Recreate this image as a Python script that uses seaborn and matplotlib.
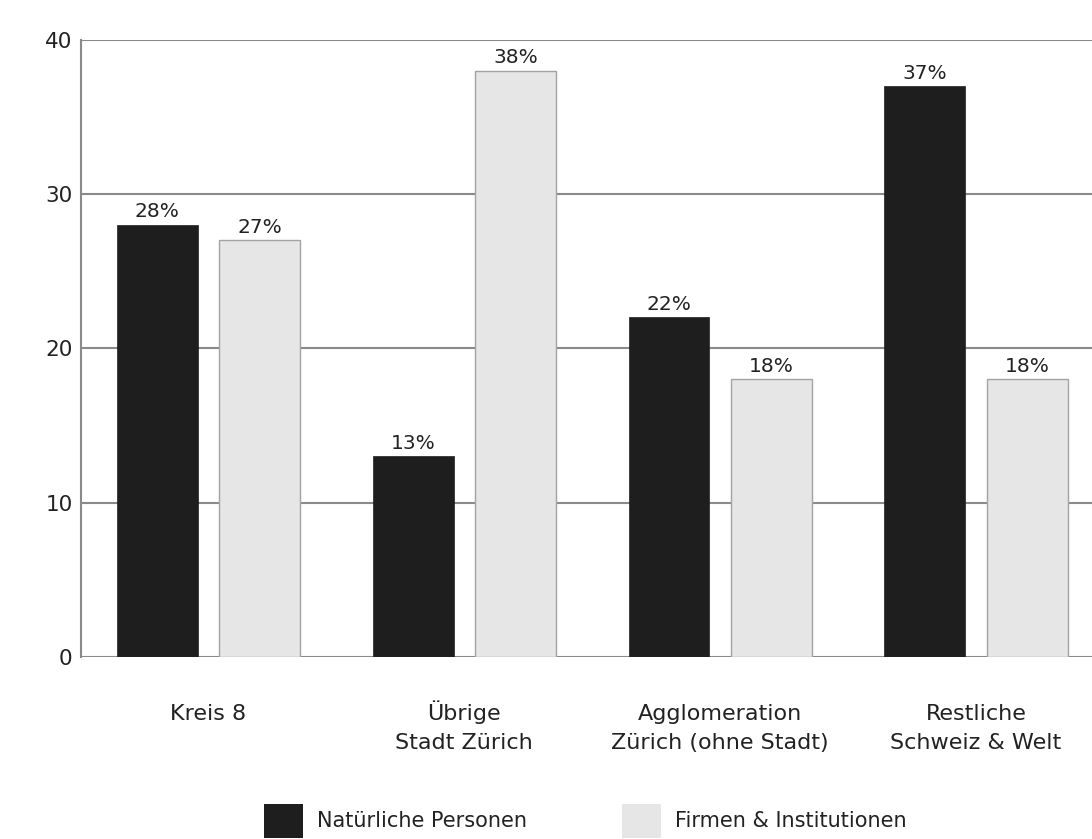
import matplotlib
matplotlib.use("Agg")
import matplotlib.pyplot as plt
import matplotlib.transforms as mtransforms
from matplotlib.patches import Patch
import pandas as pd
import seaborn as sns

# Herkunft der Eigentümer, Anteile in Prozent
regions = ["Kreis 8", "Übrige\nStadt Zürich", "Agglomeration\nZürich (ohne Stadt)", "Restliche\nSchweiz & Welt"]
series = ["Natürliche Personen", "Firmen & Institutionen"]
natuerliche_personen = [28, 13, 22, 37]
firmen_institutionen = [27, 38, 18, 18]
y_ticks = [0, 10, 20, 30, 40]

colors = {"Natürliche Personen": "#1e1e1e", "Firmen & Institutionen": "#e6e6e6"}
grid_color = "#8a8a8a"
text_color = "#222222"

df = pd.DataFrame({
    "Region": regions * 2,
    "Gruppe": [series[0]] * len(regions) + [series[1]] * len(regions),
    "Anteil": natuerliche_personen + firmen_institutionen,
})

sns.set_style("white")
plt.rcParams["font.family"] = ["DejaVu Sans"]

fig = plt.figure(figsize=(10.92, 8.39), dpi=100)
ax = fig.add_axes([81 / 1092, 182 / 839, 1 - 81 / 1092, 617.3 / 839])

sns.barplot(data=df, x="Region", y="Anteil", hue="Gruppe", order=regions,
            hue_order=series, palette=colors, width=0.8, gap=0.21,
            saturation=1, legend=False, ax=ax, zorder=2)

# Umriss der hellen Balken
for bar in ax.containers[1]:
    bar.set_edgecolor("#a3a3a3")
    bar.set_linewidth(1.0)
for bar in ax.containers[0]:
    bar.set_edgecolor("#1e1e1e")
    bar.set_linewidth(0.5)

# Prozentangaben über den Balken
for cont, vals in zip(ax.containers, [natuerliche_personen, firmen_institutionen]):
    ax.bar_label(cont, labels=[f"{v}%" for v in vals], padding=2.5,
                 fontsize=14.5, color=text_color)

ax.set_ylim(0, 40)
ax.set_xlim(-0.498, 3.453)
ax.set_yticks(y_ticks)
ax.set_yticklabels([str(t) for t in y_ticks], fontsize=15.5, color=text_color)
ax.tick_params(axis="y", length=0, pad=6)

# Kategorienbeschriftung: jede Zeile auf fester Grundlinie unter der Achse
ax.set_xticks(range(len(regions)))
ax.set_xticklabels([])
ax.tick_params(axis="x", length=0)
base = mtransforms.blended_transform_factory(ax.transData, ax.transAxes)
first_baseline = 63   # Pixel unter der Nulllinie
line_step = 29        # Zeilenabstand in Pixel
for i, name in enumerate(regions):
    for j, line in enumerate(name.split("\n")):
        tr = mtransforms.offset_copy(base, fig=fig, x=0,
                                     y=-(first_baseline + j * line_step), units="dots")
        ax.text(i, 0, line, transform=tr, ha="center", va="baseline",
                fontsize=16, color=text_color, clip_on=False)

ax.set_xlabel("")
ax.set_ylabel("")
ax.set_axisbelow(True)
ax.yaxis.grid(True, color=grid_color, linewidth=1.5)
ax.xaxis.grid(False)
for side in ["top", "right", "bottom"]:
    ax.spines[side].set_visible(False)
ax.spines["left"].set_color(grid_color)
ax.spines["left"].set_linewidth(1.5)

handles = [Patch(facecolor=colors[s], edgecolor="none", label=s) for s in series]
fig.legend(handles=handles, loc="upper left", bbox_to_anchor=(264 / 1092, 35 / 839),
           ncol=2, frameon=False, fontsize=15, handlelength=1.875,
           handleheight=2.1, handletextpad=0.67, columnspacing=4.55,
           borderpad=0, borderaxespad=0, labelcolor=text_color)

fig.savefig("out.png", dpi=100, facecolor="white")
